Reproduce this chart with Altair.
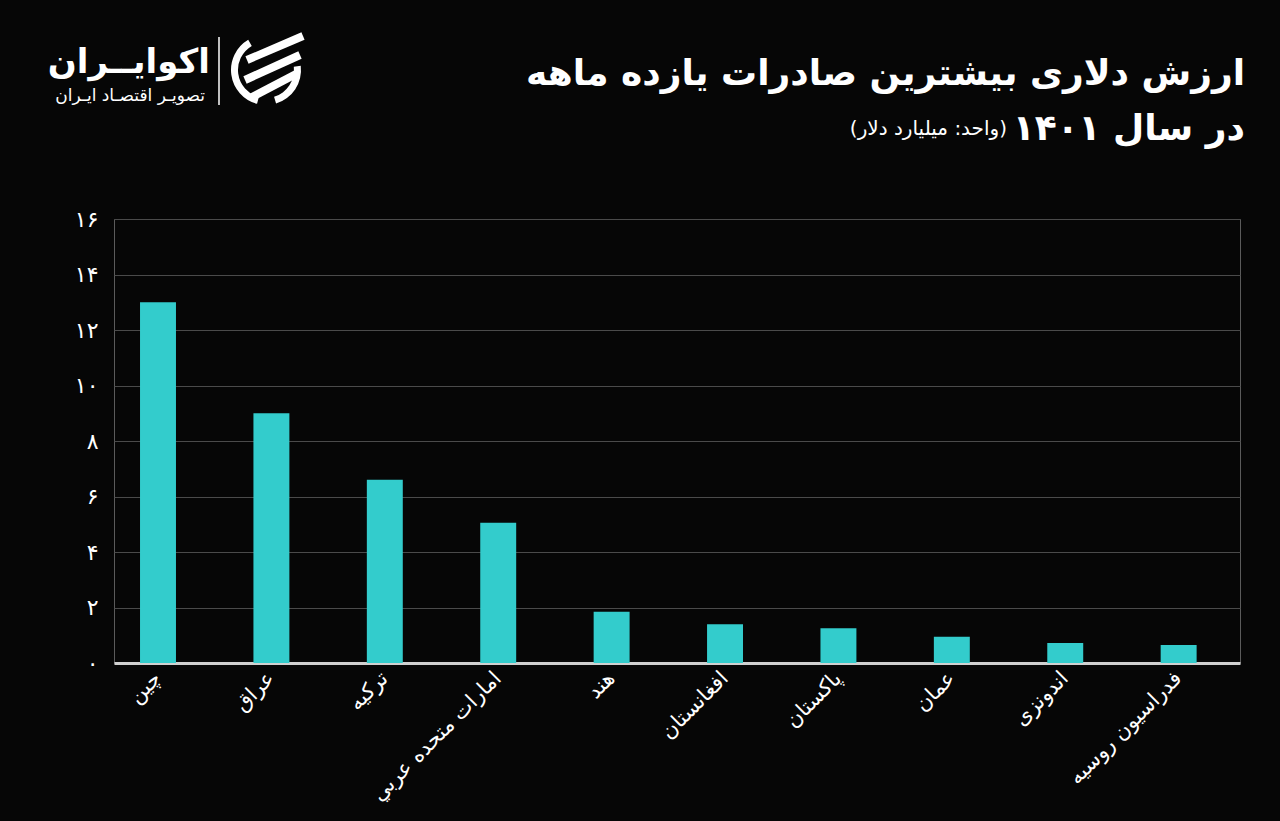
import altair as alt
import pandas as pd

countries = ["چین", "عراق", "ترکیه", "امارات متحده عربي", "هند",
             "افغانستان", "پاکستان", "عمان", "اندونزی", "فدراسیون روسیه"]
values = [13.0, 9.0, 6.6, 5.05, 1.85, 1.4, 1.25, 0.95, 0.72, 0.65]
y_ticks = [0, 2, 4, 6, 8, 10, 12, 14, 16]

title1 = "ارزش دلاری بیشترین صادرات یازده ماهه"
title2 = "در سال ۱۴۰۱"
unit_text = "\u200f(واحد: میلیارد دلار)\u200f"
brand = "اکوایــران"
tagline = "تصویـر اقتصـاد ایـران"

FONT = "DejaVu Sans"
BG = "#060606"
BAR = "#33CCCC"

df = pd.DataFrame({"country": countries, "value": values})

persian = ("replace(replace(replace(replace(replace(replace(replace(replace(replace(replace("
           "datum.label,/0/g,'۰'),/1/g,'۱'),/2/g,'۲'),/3/g,'۳'),/4/g,'۴'),"
           "/5/g,'۵'),/6/g,'۶'),/7/g,'۷'),/8/g,'۸'),/9/g,'۹')")

bars = alt.Chart(df).mark_bar(color=BAR).encode(
    x=alt.X("country:N", sort=countries, title=None,
            scale=alt.Scale(paddingInner=0.683, paddingOuter=0.306, align=0.375),
            axis=alt.Axis(labelAngle=-45, labelAlign="right", labelBaseline="middle",
                          labelPadding=12, labelFontSize=21, labelColor="white",
                          labelFont=FONT, ticks=False, domainColor="#d0d0d0",
                          domainWidth=3, labelLimit=400)),
    y=alt.Y("value:Q", title=None,
            scale=alt.Scale(domain=[0, 16], nice=False),
            axis=alt.Axis(values=y_ticks, labelExpr=persian, labelFontSize=22,
                          labelColor="white", labelFont=FONT, labelPadding=16,
                          ticks=False, domain=False, gridColor="#4a4a4a",
                          gridWidth=1)),
)

def txt(s, x, y, size, bold=True, align="right", color="white"):
    return alt.Chart(pd.DataFrame({"t": [s]})).mark_text(
        font=FONT, fontSize=size, fontWeight="bold" if bold else "normal",
        align=align, baseline="alphabetic", color=color,
    ).encode(text="t:N", x=alt.value(x), y=alt.value(y))

t1 = txt(title1, 1131, -134, 36)
t2 = txt(title2, 1131, -79, 36)
t3 = txt(unit_text, 893, -84, 20, bold=False)
b1 = txt(brand, 96, -146, 34)
b2 = txt(tagline, 91, -118, 17, bold=False)

one = pd.DataFrame({"a": [0]})
sep = alt.Chart(one).mark_rule(color="white", strokeWidth=1.5).encode(
    x=alt.value(105), y=alt.value(-182), y2=alt.value(-114))

# logo icon (decoration)
arc_left = alt.Chart(one).mark_arc(color="white", radius=35, radius2=28,
                                   theta=3.4, theta2=5.75).encode(
    x=alt.value(152), y=alt.value(-149))
arc_right = alt.Chart(one).mark_arc(color="white", radius=35, radius2=28,
                                    theta=1.45, theta2=2.85).encode(
    x=alt.value(152), y=alt.value(-149))
stripe1 = alt.Chart(one).mark_rule(color="white", strokeWidth=8).encode(
    x=alt.value(133), y=alt.value(-159), x2=alt.value(189), y2=alt.value(-183))
stripe2 = alt.Chart(one).mark_rule(color="white", strokeWidth=8).encode(
    x=alt.value(131), y=alt.value(-139), x2=alt.value(186), y2=alt.value(-164))
stripe3 = alt.Chart(one).mark_rule(color="white", strokeWidth=8).encode(
    x=alt.value(138), y=alt.value(-122), x2=alt.value(182), y2=alt.value(-145))

chart = alt.layer(bars, t1, t2, t3, b1, b2, sep, arc_left, arc_right,
                  stripe1, stripe2, stripe3).properties(
    width=1126, height=444,
    autosize=alt.AutoSizeParams(type="none"),
    padding={"left": 114, "top": 219, "right": 40, "bottom": 158},
    background=BG,
).configure_view(stroke="#5a5a5a", strokeWidth=1)

chart.save("out.html", embed_options={"renderer": "svg", "actions": False})
